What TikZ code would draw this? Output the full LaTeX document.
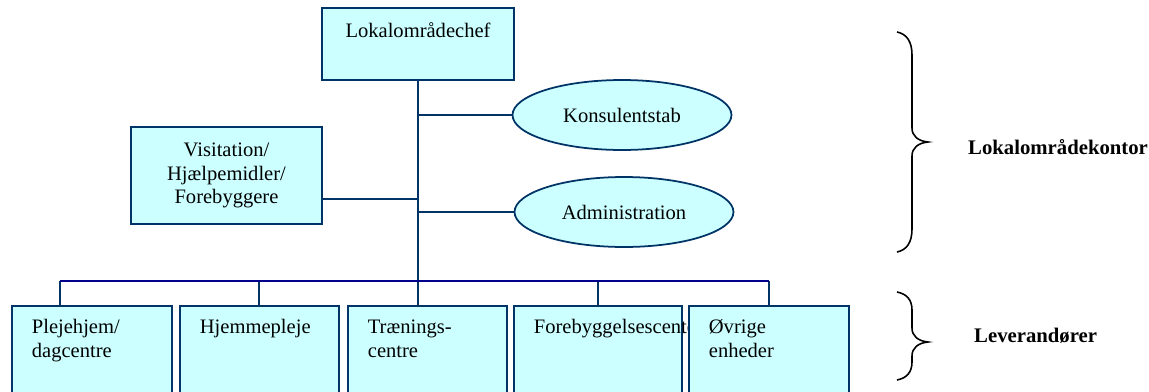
\documentclass[tikz,border=0pt]{standalone}
\usepackage{fontspec}
\setmainfont{Liberation Serif}
\usetikzlibrary{shapes.geometric}
\begin{document}
\begin{tikzpicture}[x=0.02cm,y=-0.02cm,
    font=\fontsize{11.7}{13.5}\selectfont,
    orgbox/.style={shape=rectangle,draw=lo_line,fill=lo_fill,line width=1pt},
    unitbox/.style={orgbox,anchor=north west,align=left,inner xsep=0.4cm,inner ysep=0pt,text height=0.56cm,text depth=1.44cm},
    staffell/.style={shape=ellipse,draw=lo_line,fill=lo_fill,line width=1pt,inner sep=0pt,minimum width=4.38cm,minimum height=1.4cm},
    link/.style={draw=lo_line,line width=1.15pt},
    bus/.style={draw=lo_bus,line width=1.4pt},
    bracelabel/.style={anchor=west,font=\fontsize{11.8}{14}\selectfont\bfseries}]
    \definecolor{lo_fill}{RGB}{204,255,255}
    \definecolor{lo_line}{RGB}{0,51,102}
    \definecolor{lo_bus}{RGB}{0,0,140}
    \clip (0,0) rectangle (1149,392);
    \node[orgbox,minimum width=3.84cm,inner ysep=0pt,text height=0.58cm,text depth=0.86cm] (chef) at (418,44) {Lokalområdechef};
    \node[staffell] (konsulent) at (622,115) {Konsulentstab};
    \node[staffell] (admin) at (624,212) {Administration};
    \node[orgbox,minimum width=3.82cm,minimum height=1.94cm,align=center] (visit) at (226.5,175.5) {Visitation/\\Hjælpemidler/\\Forebyggere};
    % leverandoerer
    \node[unitbox,text width=2.4cm]  (pleje)  at (11,305)  {Plejehjem/\\dagcentre};
    \node[unitbox,text width=2.38cm] (hjem)   at (179,305) {Hjemmepleje};
    \node[unitbox,text width=2.38cm] (trae)   at (347,305) {Trænings-\\centre};
    \node[unitbox,text width=2.56cm] (forebyg) at (513,305) {Forebyggelsescenter};
    \node[unitbox,text width=2.4cm]  (oevrig) at (688,305) {Øvrige\\enheder};
    % forbindelser
    \coordinate (busL) at (60,281);
    \coordinate (visout) at (322,199);
    \draw[link] (chef.south) -- (chef.south |- trae.north);
    \draw[link] (chef.south |- konsulent.west) -- (konsulent.west);
    \draw[link] (chef.south |- admin.west) -- (admin.west);
    \draw[link] (visout) -- (visout -| chef.south);
    \draw[link] (busL) -- (busL |- pleje.north);
    \draw[link] (hjem.north |- busL) -- (hjem.north);
    \draw[link] (forebyg.north |- busL) -- (forebyg.north);
    \draw[link] (oevrig.north |- busL) -- (oevrig.north);
    \draw[bus] (busL) -- (busL -| oevrig.north);
    % klammer
    \draw[line width=0.9pt] (897,32) .. controls (907,34) and (912,42) .. (912,55) -- (912,128)
        .. controls (912,136) and (918,141) .. (928,142) .. controls (918,143) and (912,148) .. (912,156)
        -- (912,229) .. controls (912,242) and (907,250) .. (897,252);
    \draw[line width=0.9pt] (897,292) .. controls (907,294) and (912,300) .. (912,310) -- (912,328)
        .. controls (912,336) and (918,341) .. (928,342) .. controls (918,343) and (912,348) .. (912,356)
        -- (912,362) .. controls (912,372) and (907,378) .. (897,380);
    \node[bracelabel] (kontor) at (962,147) {Lokalområdekontor};
    \node[bracelabel] (lever) at (968,336) {Leverandører};
\end{tikzpicture}
\end{document}
